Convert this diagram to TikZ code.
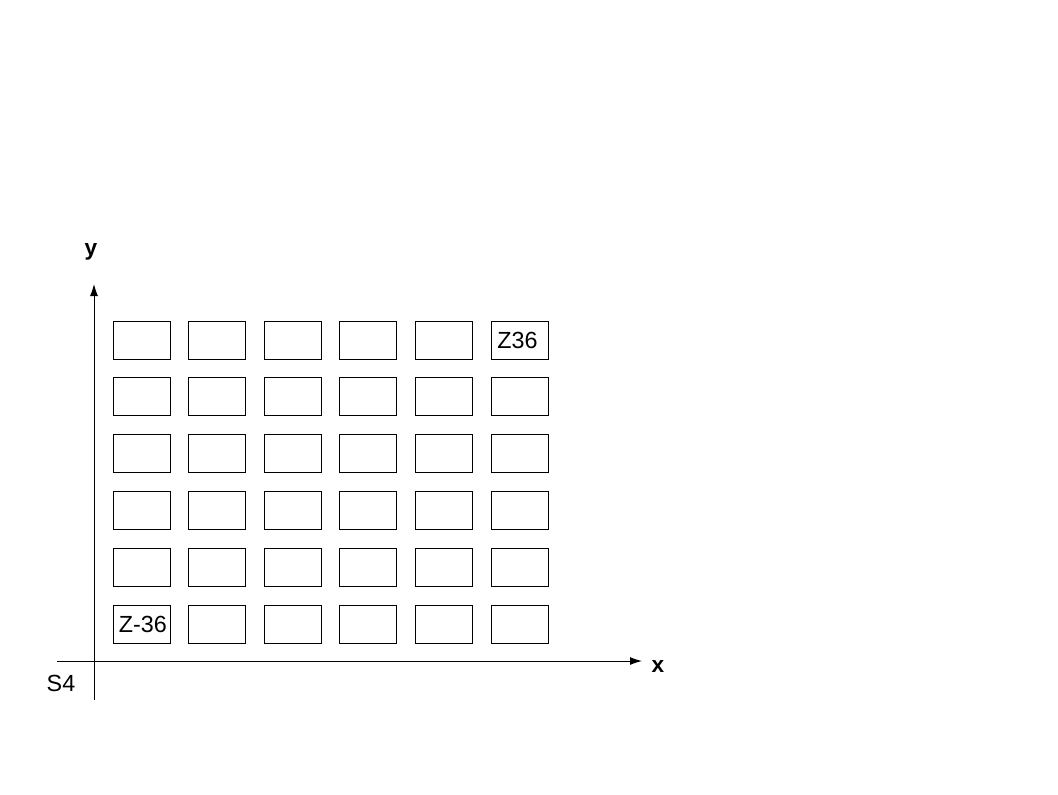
\documentclass[tikz,border=0pt]{standalone}
\usepackage{fontspec}
\setmainfont{Liberation Sans}
\usetikzlibrary{arrows.meta}

\tikzset{
  feld/.style={draw, line width=0.75pt, minimum width=57*0.75pt, minimum height=38*0.75pt, inner sep=0pt},
  feldtext/.style={font=\fontsize{17.5}{20}\selectfont},
  achse/.style={line width=0.75pt, -{Latex[length=9pt,width=6pt]}},
  achsbeschriftung/.style={font=\fontsize{17}{20}\selectfont\bfseries, anchor=base}
}

\begin{document}
\begin{tikzpicture}[x=0.75pt,y=-0.75pt]
			\useasboundingbox (0,0) rectangle (1058,794);

			% Achsen
			\coordinate (ursprungx) at (57,661);
			\coordinate (endex) at (642,661);
			\coordinate (ursprungy) at (94,700);
			\coordinate (endey) at (94,284);
			\draw[achse] (ursprungx) -- (endex);
			\draw[achse] (ursprungy) -- (endey);

			% Felder
			\foreach \i in {0,...,5} {
				\foreach \j in {0,...,5} {
					\node[feld] (f-\i-\j) at ({141.5+75.6*\i},{624-56.8*\j}) {};
				}
			}

			% Feldbeschriftungen
			\node[feldtext] (zminus) at ([xshift=1pt]f-0-0.center) {Z-36};
			\node[feldtext] (zplus) at ([xshift=-1.5pt]f-5-5.center) {Z36};

			% Achsenbeschriftungen
			\node[achsbeschriftung] (xlabel) at (658,672) {x};
			\node[achsbeschriftung] (ylabel) at (91,255) {y};
			\node[feldtext, anchor=base] (s4) at (61,691) {S4};

		\end{tikzpicture}
\end{document}
